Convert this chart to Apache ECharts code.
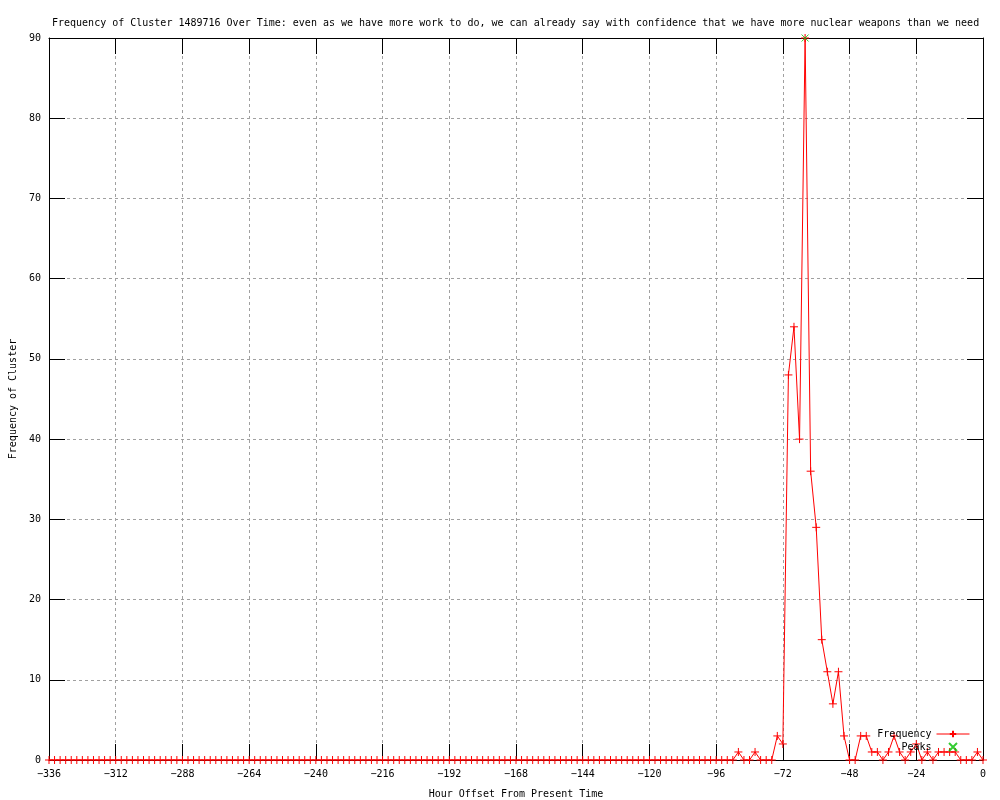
<!DOCTYPE html>
<html>
<head>
<meta charset="utf-8">
<script src="https://cdn.jsdelivr.net/npm/echarts@6/dist/echarts.min.js"></script>
<style>
html,body{margin:0;padding:0;background:#fff;}
#chart{width:1000px;height:800px;}
</style>
</head>
<body>
<div id="chart"></div>
<script>
var titleText = "Frequency of Cluster 1489716 Over Time: even as we have more work to do, we can already say with confidence that we have more nuclear weapons than we need";
var xAxisName = "Hour Offset From Present Time";
var yAxisName = "Frequency of Cluster";
var seriesNames = ["Frequency", "Peaks"];

var hours = [
  -336,-334,-332,-330,-328,-326,-324,-322,-320,-318,-316,-314,
  -312,-310,-308,-306,-304,-302,-300,-298,-296,-294,-292,-290,
  -288,-286,-284,-282,-280,-278,-276,-274,-272,-270,-268,-266,
  -264,-262,-260,-258,-256,-254,-252,-250,-248,-246,-244,-242,
  -240,-238,-236,-234,-232,-230,-228,-226,-224,-222,-220,-218,
  -216,-214,-212,-210,-208,-206,-204,-202,-200,-198,-196,-194,
  -192,-190,-188,-186,-184,-182,-180,-178,-176,-174,-172,-170,
  -168,-166,-164,-162,-160,-158,-156,-154,-152,-150,-148,-146,
  -144,-142,-140,-138,-136,-134,-132,-130,-128,-126,-124,-122,
  -120,-118,-116,-114,-112,-110,-108,-106,-104,-102,-100,-98,
  -96,-94,-92,-90,-88,-86,-84,-82,-80,-78,-76,-74,
  -72,-70,-68,-66,-64,-62,-60,-58,-56,-54,-52,-50,
  -48,-46,-44,-42,-40,-38,-36,-34,-32,-30,-28,-26,
  -24,-22,-20,-18,-16,-14,-12,-10,-8,-6,-4,-2,
  0
];
var frequency = [
  0,0,0,0,0,0,0,0,0,0,0,0,
  0,0,0,0,0,0,0,0,0,0,0,0,
  0,0,0,0,0,0,0,0,0,0,0,0,
  0,0,0,0,0,0,0,0,0,0,0,0,
  0,0,0,0,0,0,0,0,0,0,0,0,
  0,0,0,0,0,0,0,0,0,0,0,0,
  0,0,0,0,0,0,0,0,0,0,0,0,
  0,0,0,0,0,0,0,0,0,0,0,0,
  0,0,0,0,0,0,0,0,0,0,0,0,
  0,0,0,0,0,0,0,0,0,0,0,0,
  0,0,0,0,1,0,0,1,0,0,0,3,
  2,48,54,40,90,36,29,15,11,7,11,3,
  0,0,3,3,1,1,0,1,3,1,0,1,
  2,0,1,0,1,1,1,1,0,0,0,1,
  0
];
var peakHours = [-64];
var peakValues = [90];
var xTicks = [-336,-312,-288,-264,-240,-216,-192,-168,-144,-120,-96,-72,-48,-24,0];
var yTicks = [0,10,20,30,40,50,60,70,80,90];

var FONT = "DejaVu Sans Mono";
var freqData = hours.map(function (h, i) { return [h, frequency[i]]; });
var peakData = peakHours.map(function (h, i) { return [h, peakValues[i]]; });

var plusPath = 'path://M0,5L10,5M5,0L5,10';
var crossPath = 'path://M0,0L10,10M10,0L0,10';

function fmtMinus(v) { return String(v).replace('-', '\u2212'); }

var gridLine = { show: true, lineStyle: { color: '#a0a0a0', type: [3, 3], width: 1 } };
var black = { color: '#000', width: 1 };

var chart = echarts.init(document.getElementById('chart'), null, { renderer: 'canvas' });
chart.setOption({
  animation: false,
  backgroundColor: '#fff',
  textStyle: { fontFamily: FONT },
  title: {
    text: titleText,
    left: 47,
    top: 13,
    textStyle: { fontFamily: FONT, fontSize: 10, fontWeight: 'normal', color: '#000' }
  },
  grid: { left: 49, right: 17, top: 38, bottom: 40, containLabel: false, outerBoundsMode: 'none' },
  legend: {
    orient: 'vertical',
    right: 30,
    top: 729,
    padding: 0,
    align: 'right',
    itemWidth: 33,
    itemHeight: 8,
    itemGap: 3,
    lineStyle: { width: 1 },
    textStyle: { fontFamily: FONT, fontSize: 10, color: '#000' },
    data: seriesNames
  },
  xAxis: [{
    type: 'value',
    min: xTicks[0],
    max: xTicks[xTicks.length - 1],
    interval: 24,
    name: xAxisName,
    nameLocation: 'middle',
    nameGap: 29,
    nameTextStyle: { fontFamily: FONT, fontSize: 10, color: '#000' },
    axisLine: { show: true, onZero: false, lineStyle: black },
    axisTick: { show: true, inside: true, length: 16, lineStyle: black },
    axisLabel: { fontFamily: FONT, fontSize: 10, color: '#000', margin: 9, formatter: fmtMinus },
    splitLine: gridLine
  }, {
    type: 'value',
    position: 'top',
    min: xTicks[0],
    max: xTicks[xTicks.length - 1],
    interval: 24,
    axisLine: { show: true, onZero: false, lineStyle: black },
    axisTick: { show: true, inside: true, length: 16, lineStyle: black },
    axisLabel: { show: false },
    splitLine: { show: false }
  }],
  yAxis: [{
    type: 'value',
    min: yTicks[0],
    max: yTicks[yTicks.length - 1],
    interval: 10,
    name: yAxisName,
    nameLocation: 'middle',
    nameGap: 31,
    nameTextStyle: { fontFamily: FONT, fontSize: 10, color: '#000' },
    axisLine: { show: true, onZero: false, lineStyle: black },
    axisTick: { show: true, inside: true, length: 16, lineStyle: black },
    axisLabel: { fontFamily: FONT, fontSize: 10, color: '#000', margin: 8 },
    splitLine: gridLine
  }, {
    type: 'value',
    position: 'right',
    min: yTicks[0],
    max: yTicks[yTicks.length - 1],
    interval: 10,
    axisLine: { show: true, onZero: false, lineStyle: black },
    axisTick: { show: true, inside: true, length: 16, lineStyle: black },
    axisLabel: { show: false },
    splitLine: { show: false }
  }],
  series: [{
    name: seriesNames[0],
    type: 'line',
    xAxisIndex: 0,
    yAxisIndex: 0,
    data: freqData,
    showAllSymbol: true,
    symbol: plusPath,
    symbolSize: 8,
    lineStyle: { color: '#ff0000', width: 1 },
    itemStyle: { color: '#ff0000', borderColor: '#ff0000', borderWidth: 1 },
    z: 3
  }, {
    name: seriesNames[1],
    type: 'scatter',
    xAxisIndex: 0,
    yAxisIndex: 0,
    data: peakData,
    symbol: crossPath,
    symbolSize: 7,
    itemStyle: { color: '#00c000', borderColor: '#00c000', borderWidth: 1 },
    z: 4
  }]
});
</script>
</body>
</html>
